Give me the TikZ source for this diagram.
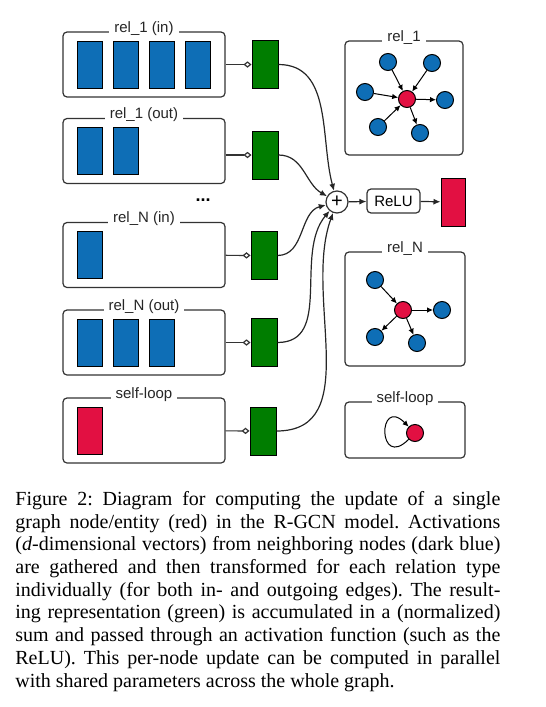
\documentclass[tikz,border=0pt]{standalone}
\usepackage{fontspec}
\setmainfont{Liberation Serif}
\setsansfont{Liberation Sans}
\usetikzlibrary{arrows.meta,positioning}
\definecolor{vecblue}{RGB}{14,110,182}
\definecolor{entred}{RGB}{226,16,66}
\definecolor{featgreen}{RGB}{0,125,0}

\begin{document}
\begin{tikzpicture}[
  x=0.5pt, y=-0.5pt,
  font=\fontsize{7.5}{9}\selectfont\sffamily,
  relbox/.style={draw=black!80, line width=0.6pt, rounded corners=2pt, minimum width=81pt, minimum height=32.5pt, inner sep=0pt},
  tag/.style={fill=white, inner xsep=2.5pt, inner ysep=1pt, text=black!85, yshift=1.5pt},
  vec/.style={draw, line width=0.5pt, fill=vecblue, minimum width=12.5pt, minimum height=23.5pt, inner sep=0pt},
  feat/.style={draw, line width=0.5pt, fill=featgreen, minimum width=13pt, minimum height=24pt, inner sep=0pt},
  ent/.style={draw, line width=0.5pt, fill=entred, minimum width=12.5pt, minimum height=23.5pt, inner sep=0pt},
  dot/.style={circle, draw, line width=0.5pt, fill=vecblue, minimum size=8.5pt, inner sep=0pt},
  hub/.style={dot, fill=entred},
  sum/.style={circle, draw=black!80, line width=0.6pt, minimum size=11pt, inner sep=0pt, font=\fontsize{10}{10}\selectfont\sffamily},
  act/.style={draw=black!80, line width=0.6pt, rounded corners=2pt, minimum width=26.5pt, minimum height=12pt, inner sep=1pt},
  link/.style={-{Diamond[open, length=4pt, width=3.2pt]}, draw=black!80, line width=0.6pt},
  arr/.style={-{Latex[length=3pt, width=2.8pt]}, line width=0.5pt},
  flow/.style={-{Latex[length=3.5pt, width=3pt]}, line width=0.6pt, draw=black!85}
]
\useasboundingbox (0,0) rectangle (546,707);

% relation blocks on the left
\node[relbox] (in1) at (144,64.5) {};
\node[tag] (t1) at (in1.north) {rel\_1 (in)};
\foreach \i in {1,...,4}
  \node[vec] (a\i) at (53.2+36.3*\i,64.5) {};

\node[relbox] (out1) at (144,151) {};
\node[tag] (t2) at (out1.north) {rel\_1 (out)};
\foreach \i in {1,2}
  \node[vec] (b\i) at (53.2+36.3*\i,151) {};

\node[font=\fontsize{9}{9}\selectfont\sffamily] (dots) at (203,200) {\textbf{...}};

\node[relbox] (inN) at (144,255) {};
\node[tag] (t3) at (inN.north) {rel\_N (in)};
\node[vec] (c1) at (89.5,255) {};

\node[relbox] (outN) at (144,342.5) {};
\node[tag] (t4) at (outN.north) {rel\_N (out)};
\foreach \i in {1,2,3}
  \node[vec] (d\i) at (53.2+36.3*\i,342.5) {};

\node[relbox] (self) at (144,430.5) {};
\node[tag] (t5) at (self.north) {self-loop};
\node[ent] (e1) at (89.5,430.5) {};

% transformed features
\node[feat] (g1) at (265,64.5) {};
\node[feat] (g2) at (265,155) {};
\node[feat] (g3) at (264,255.5) {};
\node[feat] (g4) at (264,342.5) {};
\node[feat] (g5) at (263,431) {};
\draw[link] (in1) -- (g1);
\draw[link] (out1.east |- g2) -- (g2);
\draw[link] (inN) -- (g3);
\draw[link] (outN) -- (g4);
\draw[link] (self) -- (g5);

% sum and activation
\node[sum] (sum) at (337,202) {+};
\node[act] (relu) at (393.5,201) {ReLU};
\node[ent, minimum width=12pt, minimum height=24pt] (res) at (453,202) {};
\draw[flow] (g1.east) to[out=0, in=105] (sum);
\draw[flow] (g2.east) to[out=0, in=150] (sum);
\draw[flow] (g3.east) to[out=0, in=195] (sum);
\draw[flow] (g4.east) to[out=0, in=230] (sum);
\draw[flow] (g5.east) to[out=0, in=250] (sum);
\draw[flow] (sum) -- (relu);
\draw[flow] (relu) -- (res);

% relation graphs on the right
\node[relbox, minimum width=59pt, minimum height=57pt] (gr1) at (404,98) {};
\node[tag] at (gr1.north) {rel\_1};
\node[hub] (h1) at (407,99) {};
\node[dot] (p1) at (388,62) {};
\node[dot] (p2) at (432,63) {};
\node[dot] (p3) at (365,92) {};
\node[dot] (p4) at (378,127) {};
\node[dot] (p5) at (445,100) {};
\node[dot] (p6) at (420,133) {};
\foreach \n in {p1,p2,p3,p4}
  \draw[arr] (\n) -- (h1);
\foreach \n in {p5,p6}
  \draw[arr] (h1) -- (\n);

\node[relbox, minimum width=60pt, minimum height=57pt] (grN) at (405,309) {};
\node[tag] at (grN.north) {rel\_N};
\node[hub] (h2) at (403,310) {};
\node[dot] (q1) at (375,280) {};
\node[dot] (q2) at (442,310) {};
\node[dot] (q3) at (375,337) {};
\node[dot] (q4) at (417,343) {};
\draw[arr] (q1) -- (h2);
\foreach \n in {q2,q3,q4}
  \draw[arr] (h2) -- (\n);

\node[relbox, minimum width=60pt, minimum height=28pt] (grS) at (405,430) {};
\node[tag] at (grS.north) {self-loop};
\node[hub] (h3) at (415,433) {};
\draw[arr] (h3) to[out=225, in=135, min distance=22pt] (h3);

% caption
\node[anchor=north west, text width=242.5pt, align=justify, inner sep=0pt,
      font=\fontsize{10}{11.35}\selectfont\rmfamily\frenchspacing] (cap) at (15,491)
  {Figure 2: Diagram for computing the update of a single\linebreak
   graph node/entity (red) in the R-GCN model. Activations\linebreak
   (\textit{d}-dimensional vectors) from neighboring nodes (dark blue)\linebreak
   are gathered and then transformed for each relation type\linebreak
   individually (for both in- and outgoing edges). The result-\linebreak
   ing representation (green) is accumulated in a (normalized)\linebreak
   sum and passed through an activation function (such as the\linebreak
   ReLU). This per-node update can be computed in parallel\linebreak
   with shared parameters across the whole graph.};
\end{tikzpicture}
\end{document}
